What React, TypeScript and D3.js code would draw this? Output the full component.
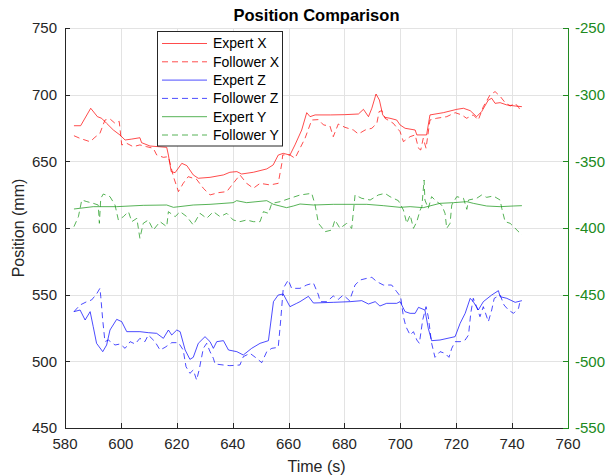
import React from "react";
import * as d3 from "d3";

const xTicks = [580, 600, 620, 640, 660, 680, 700, 720, 740, 760];
const leftTicks = [450, 500, 550, 600, 650, 700, 750];
const rightTicks = [-550, -500, -450, -400, -350, -300, -250];

const expertX: [number, number][] = [[583.2,676.7],[585.6,676.7],[589.2,689.8],[591.6,683.5],[593.1,682.3],[594.9,678.5],[597.3,673.5],[599.7,669.7],[601.5,666],[603.9,666.7],[606.8,667.7],[607.4,664],[610.4,661.5],[616.4,660.5],[617,654.7],[618,642.3],[619.4,641.5],[621.8,648.5],[623.6,646.8],[625.9,639.8],[627.7,637.3],[631.9,638],[636.7,639.8],[639,641.8],[641.5,642.3],[643.2,640.5],[647.4,641.8],[652.2,644.3],[654.5,647.3],[656.3,654.7],[658.1,656],[660.5,654.7],[662.3,662.3],[664.7,673.5],[666.5,686.5],[667.7,683.5],[669.5,684.8],[675,684.8],[680,685],[685,685.5],[686.8,689],[688.6,683.5],[689.8,689.8],[691.3,700.5],[692.5,696],[693.7,684.8],[694.5,683],[696.3,682.3],[698.7,681],[699.9,677.3],[701.7,674.8],[705.3,673.5],[705.9,669.8],[709.4,669.8],[710.6,684.8],[715.4,686.5],[720.2,689],[722.6,689.8],[725,688],[727.3,683.5],[729.1,687.3],[731.5,696],[732.7,697.3],[733.9,693.5],[735.7,694],[738.1,692.3],[741.1,691.5],[743.5,691]];

const followerX: [number, number][] = [[583.2,669.2],[585.4,667.2],[589,664.7],[590.7,668],[592.5,671],[594.3,681],[596.1,681.8],[597.9,678.5],[599.4,680],[600.3,662.3],[602.1,663.5],[604.4,661],[606.8,662.3],[609.2,661],[611.6,659.8],[612.8,654.8],[615.2,653],[617,653.5],[618.8,638.5],[620.6,627.3],[622.3,633.5],[624.1,638.5],[627.1,636.5],[629.5,629.8],[631.9,624.8],[634.9,626.5],[637.9,627.3],[640.2,633.5],[642.6,639.8],[645,633.5],[647.4,629.8],[649.8,633.5],[653.4,632.3],[656.3,633.5],[657.6,648.5],[657.9,654.8],[660.5,654.8],[662.3,652.3],[664.1,659.8],[665.9,667.3],[668.3,681],[670.7,681.3],[672.5,677.3],[674.8,676.5],[676,668.5],[677.8,678],[680.2,675.5],[683.2,673.5],[685,670.5],[687.4,673.5],[689.8,674.8],[691.6,678.5],[692.4,687.3],[693.4,688],[694.5,682.3],[697.5,678.5],[699.9,672.3],[701.1,664.8],[703.5,668.5],[705.3,669.8],[706.5,659.8],[707.3,658.5],[708.2,667.3],[709.2,659.8],[710.6,681],[713,682.3],[716.6,683.5],[719.6,686.5],[722,684.8],[723.7,682.3],[726.1,684.8],[727.9,681],[729.7,691],[732.1,699.8],[733.9,702.3],[735.7,698.8],[737.5,694],[739.3,691.5],[741.1,693.5],[742.3,690.5],[743.1,688]];

const expertZ: [number, number][] = [[583.2,537.25],[585.4,538.5],[587.2,531],[589,537.25],[590.1,526],[591.3,513.5],[593.5,507.25],[594.9,512.25],[596.1,523.5],[598.5,531.5],[600.3,529.75],[602.1,522.25],[606.8,522.25],[609.8,521.5],[612.8,521],[615.2,517.25],[617,523.5],[618.2,519.75],[620,523.5],[621.2,522.25],[623,508.5],[624.7,501.5],[625.9,503],[627.7,513.5],[630.1,518.5],[631.9,514.75],[633.1,509.75],[634.3,514.75],[636.7,515.5],[638.5,508.5],[641.5,507.25],[643.8,504.75],[646.8,509.75],[649.8,513.5],[652.8,515.5],[654.6,544.75],[656.3,549.75],[658.1,550.5],[660.5,541],[662.9,543.5],[664.1,544.75],[667.1,548.75],[668.9,543.75],[676,544.25],[682,544.75],[686.2,545.5],[688.6,543],[691,544.75],[692.7,541.5],[695.1,543.5],[698.7,543.5],[699.9,544.75],[701.7,537.25],[703.5,536],[705.3,536],[706.5,540.5],[708.8,538.5],[710,524.75],[711.2,515.5],[714.2,516],[719.6,518.5],[721.4,528.5],[723.2,536],[725,547.25],[726.1,544.75],[727.9,538.5],[729.7,544.75],[732.7,549.75],[735.1,553],[735.7,548.5],[738.1,547.25],[741.1,544.25],[743.5,545.5]];

const followerZ: [number, number][] = [[583.2,537.25],[585.4,542.25],[587.8,544.75],[589.5,546],[591.3,550.5],[592.5,554.75],[592.8,548.5],[593.5,531],[594.3,514.75],[595.5,516],[597.9,512.25],[599.7,513],[601.5,509.75],[603.3,514.75],[605.1,513],[606.8,517.25],[608.6,514.75],[609.8,519.75],[612.2,514.75],[614,508.5],[615.8,510.5],[618.2,514],[620.6,514],[622.3,508.5],[623.3,496],[624.7,491],[625.9,493.5],[627.1,486],[628,493.5],[629.5,509.75],[630.7,513.5],[631.9,507.25],[633.1,502.25],[633.7,498],[636.7,497.25],[639,496.75],[642.6,497.25],[643.8,503.5],[646.2,506],[648.6,502.25],[650.4,499],[652.2,507.25],[654,509.75],[656.3,510.5],[657.2,531],[658.1,554.75],[659.9,561],[661.1,554.75],[664.1,554.75],[666.5,557.25],[668.9,558.75],[670.7,549.75],[671.3,544.75],[673.7,544.75],[676,549],[677.8,546.5],[679.6,549.75],[681.8,545.5],[683.8,557.25],[685.6,561],[688,562.25],[689.8,563],[691.6,559.75],[693.9,557.25],[696.9,557.25],[698.7,552.25],[700.1,548.5],[701.1,533.5],[702,526],[703.5,519.75],[704.7,522.25],[705.9,516],[706.8,513.5],[708,531],[709.2,541],[710,533.5],[711.2,513.5],[712.4,503],[714.2,507.25],[716,506],[717.4,503],[718.4,509.75],[719.6,514.75],[721.4,514.75],[723.2,516],[724.4,519.75],[725.2,536],[726.1,547.25],[727.3,541],[728.5,533.5],[729.7,541],[731.5,529.75],[732.7,538.5],[733.6,547.25],[735.7,549.75],[737.1,542.25],[738.7,538.5],[740.5,536],[742.3,539.75],[742.8,544.75]];

const expertY: [number, number][] = [[583.2,-385.75],[590.1,-384],[592.5,-384],[598.5,-384],[608,-383],[616.4,-382.75],[618.8,-384.5],[625.9,-382.75],[631.9,-382.25],[640.2,-381],[641.4,-379.5],[645,-381],[652.2,-379.5],[654.6,-382.25],[659.3,-384.75],[661.7,-383.5],[664.1,-382],[668.9,-382.75],[676,-382.25],[688,-382.25],[693.9,-383.25],[699.9,-384.5],[703.5,-384],[708.2,-384.75],[714.2,-381.5],[719,-381],[723.8,-380.25],[726.1,-381.5],[730.9,-383.5],[735.7,-384],[740.4,-383.5],[743.5,-383.25]];

const followerY: [number, number][] = [[583.2,-399],[584.8,-391.5],[586,-379],[587.8,-380.2],[590.1,-381.5],[591.9,-382.75],[592.3,-396.5],[592.8,-377.75],[593.7,-374.5],[596.1,-376.5],[597.9,-382.75],[599.1,-394],[600.9,-391.5],[602.7,-387.75],[603.9,-395.25],[605.7,-392.75],[606.8,-407.75],[608,-396.5],[609.8,-394],[611.6,-401.5],[614,-395.25],[616.4,-399],[617,-387.75],[619.4,-391.5],[621.2,-387.75],[623.6,-391.5],[625.9,-397.75],[628.3,-389],[630.7,-392.75],[633.1,-387.75],[635.5,-391.5],[637.9,-389],[640.2,-394],[642.6,-395.25],[645,-394],[647.4,-395.25],[649.8,-395.25],[651,-387.75],[652.8,-389],[654,-381.5],[657,-380.25],[660.5,-377.75],[664.1,-375.25],[668.3,-374],[669.5,-382.75],[670.7,-396.5],[673.1,-402.75],[675.5,-401.5],[676.6,-394],[678.4,-400.25],[680.8,-396.5],[682.6,-400.25],[683.2,-387.75],[683.8,-375.25],[686.2,-377.75],[689.2,-379],[692.1,-375.25],[694.5,-374],[696.3,-376.5],[699.3,-379.5],[701.1,-386.5],[702.3,-396.5],[703.5,-390.25],[704.7,-400.25],[705.9,-395.25],[707.1,-386.5],[707.7,-384],[708.5,-364],[708.8,-379],[710,-385.25],[711.2,-376.5],[713,-380.25],[714.8,-382.75],[716,-389],[716.6,-400.25],[717.8,-396.5],[718.4,-382.75],[720.2,-376.5],[722.6,-377.75],[723.8,-386],[724.4,-379],[727.3,-377.75],[729.1,-375.25],[730.9,-377],[733.3,-376],[735.7,-379],[736.3,-385.25],[737.5,-395.25],[739.3,-396.5],[741.1,-400.25],[743.5,-405.25]];

const legendLabels = ["Expert X", "Follower X", "Expert Z", "Follower Z", "Expert Y", "Follower Y"];

const RED = "#ff0000";
const BLUE = "#0000ff";
const GREEN = "#1f9a1f";
const AXIS_GREEN = "#208a20";
const FONT = "'Liberation Sans', Arial, Helvetica, sans-serif";

export default function App() {
  const W = 608, H = 476;
  const L = 65, R = 568, T = 28, B = 428;
  const x = d3.scaleLinear().domain([580, 760]).range([L, R]);
  const yL = d3.scaleLinear().domain([450, 750]).range([B, T]);
  const yR = d3.scaleLinear().domain([-550, -250]).range([B, T]);
  const lineL = d3.line<[number, number]>().x(d => x(d[0])).y(d => yL(d[1]));
  const lineR = d3.line<[number, number]>().x(d => x(d[0])).y(d => yR(d[1]));
  const dash = "6,4";
  const series = [
    { d: lineL(expertX), c: RED, dash: null, o: 0.7 },
    { d: lineL(followerX), c: RED, dash, o: 0.7 },
    { d: lineL(expertZ), c: BLUE, dash: null, o: 0.7 },
    { d: lineL(followerZ), c: BLUE, dash, o: 0.7 },
    { d: lineR(expertY), c: GREEN, dash: null, o: 0.75 },
    { d: lineR(followerY), c: GREEN, dash, o: 0.75 },
  ];
  const tick = 5;
  const lgX = 157.5, lgY = 31.5, lgW = 125, lgH = 114.5;
  return (
    <div>
      <style>{"body{margin:0}"}</style>
      <svg width={W} height={H} style={{ display: "block", fontFamily: FONT }}>
        <rect x={0} y={0} width={W} height={H} fill="#fff" />
        <g stroke="#e3e3e3" strokeWidth={1}>
          {xTicks.map(t => (
            <line key={"gx" + t} x1={Math.round(x(t)) + 0.5} x2={Math.round(x(t)) + 0.5} y1={T} y2={B} />
          ))}
          {leftTicks.map(t => (
            <line key={"gy" + t} x1={L} x2={R} y1={Math.round(yL(t)) + 0.5} y2={Math.round(yL(t)) + 0.5} />
          ))}
        </g>
        <g fill="none" strokeWidth={1} strokeLinejoin="round">
          {series.map((s, i) => (
            <path key={i} d={s.d || ""} stroke={s.c} strokeOpacity={s.o} strokeDasharray={s.dash || undefined} />
          ))}
        </g>
        <g stroke="#262626" strokeWidth={1}>
          <line x1={L + 0.5} x2={L + 0.5} y1={T} y2={B} />
          <line x1={L} x2={R} y1={B + 0.5} y2={B + 0.5} />
          {leftTicks.map(t => (
            <line key={"lt" + t} x1={L} x2={L + tick} y1={Math.round(yL(t)) + 0.5} y2={Math.round(yL(t)) + 0.5} />
          ))}
          {xTicks.map(t => (
            <line key={"xt" + t} x1={Math.round(x(t)) + 0.5} x2={Math.round(x(t)) + 0.5} y1={B} y2={B - tick} />
          ))}
        </g>
        <g fill="#262626" fontSize={15}>
          {leftTicks.map(t => (
            <text key={"ll" + t} x={L - 8} y={yL(t)} dy="0.35em" textAnchor="end">{t}</text>
          ))}
          {xTicks.map(t => (
            <text key={"xl" + t} x={x(t)} y={B + 20.5} textAnchor="middle">{t}</text>
          ))}
        </g>
        <g stroke={AXIS_GREEN} strokeWidth={1}>
          <line x1={R + 0.5} x2={R + 0.5} y1={T} y2={B + 1} />
          {rightTicks.map(t => (
            <line key={"rt" + t} x1={R} x2={R - tick} y1={Math.round(yR(t)) + 0.5} y2={Math.round(yR(t)) + 0.5} />
          ))}
        </g>
        <g fill={AXIS_GREEN} fontSize={15}>
          {rightTicks.map(t => (
            <text key={"rl" + t} x={R + 7} y={yR(t)} dy="0.35em" textAnchor="start">{t}</text>
          ))}
        </g>
        <text x={(L + R) / 2} y={21} textAnchor="middle" fontWeight="bold" fontSize={16.5} fill="#000">Position Comparison</text>
        <text x={(L + R) / 2} y={472} textAnchor="middle" fontSize={16} fill="#262626">Time (s)</text>
        <text transform={`translate(23.5,${(T + B) / 2}) rotate(-90)`} textAnchor="middle" fontSize={16} fill="#262626">Position (mm)</text>
        <rect x={lgX} y={lgY} width={lgW} height={lgH} fill="#fff" stroke="#262626" strokeWidth={1} />
        {legendLabels.map((lab, i) => {
          const s = series[i];
          const yy = 43.5 + i * 18.3;
          return (
            <g key={lab}>
              <line x1={162} x2={207} y1={yy} y2={yy} stroke={s.c} strokeOpacity={s.o} strokeWidth={1} strokeDasharray={s.dash || undefined} />
              <text x={213} y={yy} dy="0.35em" fontSize={14} fill="#000">{lab}</text>
            </g>
          );
        })}
      </svg>
    </div>
  );
}
